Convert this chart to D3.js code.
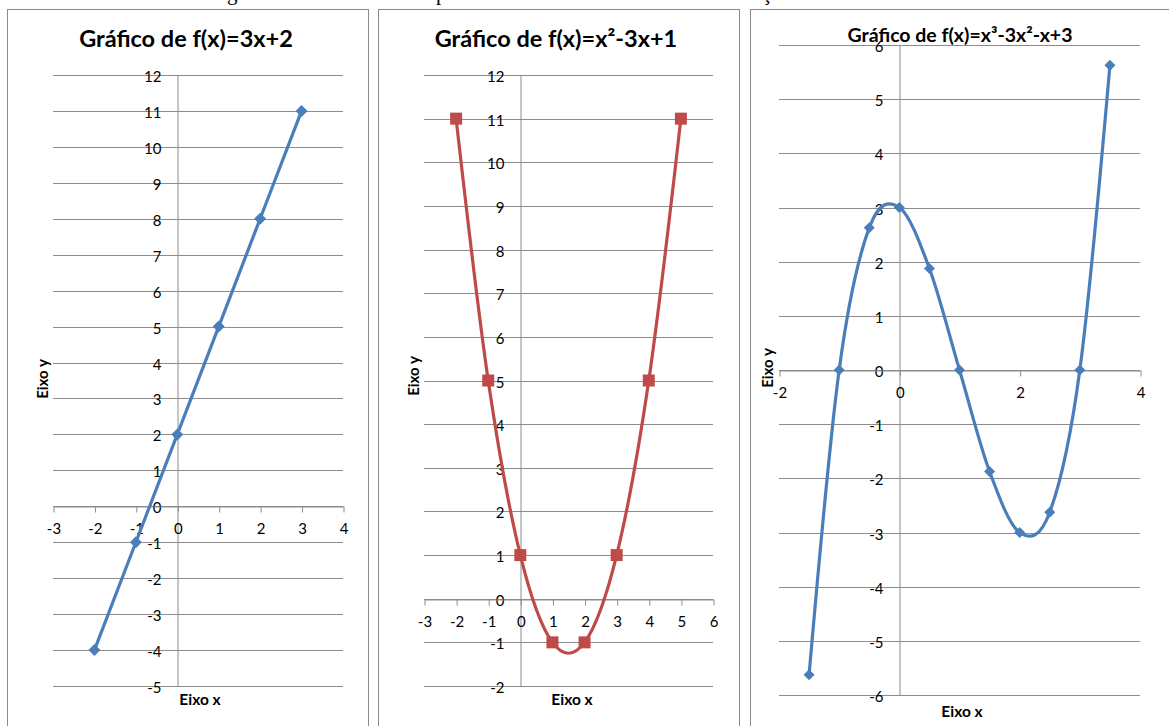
<!DOCTYPE html>
<html>
<head>
<meta charset="utf-8">
<script src="https://cdn.jsdelivr.net/npm/d3@7"></script>
<style>
  html, body { margin: 0; padding: 0; background: #fff; }
  svg { display: block; }
  text { font-family: Lato, "Open Sans", sans-serif; fill: #000; }
  .doc { font-family: "Liberation Serif", "DejaVu Serif", serif; fill: #000; }
</style>
</head>
<body>
<svg id="chart" width="1169" height="726"></svg>
<script>
// ---- data ----
const linTitle = "Gráfico de f(x)=3x+2";
const linX = [-2, -1, 0, 1, 2, 3];
const linY = [-4, -1, 2, 5, 8, 11];
const linXTicks = [-3, -2, -1, 0, 1, 2, 3, 4];
const linYTicks = [-5, -4, -3, -2, -1, 0, 1, 2, 3, 4, 5, 6, 7, 8, 9, 10, 11, 12];

const quadTitle = "Gráfico de f(x)=x²-3x+1";
const quadX = [-2, -1, 0, 1, 2, 3, 4, 5];
const quadY = [11, 5, 1, -1, -1, 1, 5, 11];
const quadXTicks = [-3, -2, -1, 0, 1, 2, 3, 4, 5, 6];
const quadYTicks = [-2, -1, 0, 1, 2, 3, 4, 5, 6, 7, 8, 9, 10, 11, 12];

const cubTitle = "Gráfico de f(x)=x³-3x²-x+3";
const cubX = [-1.5, -1, -0.5, 0, 0.5, 1, 1.5, 2, 2.5, 3, 3.5];
const cubY = [-5.625, 0, 2.625, 3, 1.875, 0, -1.875, -3, -2.625, 0, 5.625];
const cubXTicks = [-2, 0, 2, 4];
const cubYTicks = [-6, -5, -4, -3, -2, -1, 0, 1, 2, 3, 4, 5, 6];

const axisTitleX = "Eixo x";
const axisTitleY = "Eixo y";

// ---- drawing ----
const svg = d3.select("#chart");
const GRID = "#8c8c8c";
const BLUE = "#4a7ebb";
const RED = "#be4b48";
const fmt = d => String(d);   // plain hyphen-minus, no decimals

// descenders of the document line running above the charts
svg.append("text").attr("class", "doc").attr("x", 227).attr("y", -0.5).attr("font-size", 21).text("g");
svg.append("text").attr("class", "doc").attr("x", 436).attr("y", -0.5).attr("font-size", 21).text("p");
svg.append("text").attr("class", "doc").attr("x", 762).attr("y", -0.5).attr("font-size", 21).text("ç");

const diamond = r => `M0,${-r}L${r},0L0,${r}L${-r},0Z`;
const square = r => `M${-r},${-r}H${r}V${r}H${-r}Z`;

function panel(cfg) {
  const g = svg.append("g");

  // chart frame
  g.append("rect")
    .attr("x", cfg.frame[0] + 0.5).attr("y", cfg.frame[1] + 0.5)
    .attr("width", cfg.frame[2]).attr("height", cfg.frame[3])
    .attr("fill", "#fff").attr("stroke", "#8a8a8a").attr("stroke-width", 1);

  const x = d3.scaleLinear().domain(d3.extent(cfg.xTicks)).range(cfg.xRange);
  const y = d3.scaleLinear().domain(d3.extent(cfg.yTicks)).range(cfg.yRange);

  // horizontal gridlines
  g.append("g").selectAll("line").data(cfg.yTicks).join("line")
    .attr("x1", cfg.xRange[0]).attr("x2", cfg.xRange[1])
    .attr("y1", d => Math.round(y(d)) + 0.5).attr("y2", d => Math.round(y(d)) + 0.5)
    .attr("stroke", GRID).attr("stroke-width", 1);

  // vertical axis at x = 0
  const yAxis = g.append("g")
    .attr("transform", `translate(${Math.round(x(0)) + 0.5},0.5)`)
    .call(d3.axisLeft(y).tickValues(cfg.yTicks).tickFormat(fmt)
      .tickSize(0).tickSizeOuter(0).tickPadding(16));
  yAxis.select(".domain").attr("stroke", GRID);
  yAxis.selectAll("text").attr("dy", "0.4em").attr("font-size", cfg.tickFont)
    .attr("font-family", null).attr("fill", "#000");

  // horizontal axis at y = 0
  const xAxis = g.append("g")
    .attr("transform", `translate(0.5,${Math.round(y(0)) + 0.5})`)
    .call(d3.axisBottom(x).tickValues(cfg.xTicks).tickFormat(fmt)
      .tickSize(6).tickSizeOuter(0).tickPadding(11));
  xAxis.select(".domain").attr("stroke", GRID);
  xAxis.selectAll(".tick line").attr("stroke", GRID);
  xAxis.selectAll("text").attr("font-size", cfg.tickFont)
    .attr("font-family", null).attr("fill", "#000");

  // titles
  g.append("text").attr("x", cfg.title[0]).attr("y", cfg.title[1])
    .attr("text-anchor", "middle").attr("font-weight", 700).attr("font-size", cfg.titleFont)
    .text(cfg.titleText);
  g.append("text").attr("x", cfg.xLabel[0]).attr("y", cfg.xLabel[1])
    .attr("text-anchor", "middle").attr("font-weight", 700).attr("font-size", 15.5)
    .text(axisTitleX);
  g.append("text")
    .attr("transform", `translate(${cfg.yLabel[0]},${cfg.yLabel[1]}) rotate(-90)`)
    .attr("text-anchor", "middle").attr("font-weight", 700).attr("font-size", 15)
    .text(axisTitleY);

  // series
  const pts = cfg.xs.map((v, i) => [v, cfg.ys[i]]);
  const line = d3.line().x(d => x(d[0])).y(d => y(d[1])).curve(cfg.curve);
  g.append("path").datum(pts).attr("d", line)
    .attr("fill", "none").attr("stroke", cfg.color).attr("stroke-width", 3.2)
    .attr("stroke-linejoin", "round");
  g.append("g").selectAll("path").data(pts).join("path")
    .attr("transform", d => `translate(${x(d[0])},${y(d[1])})`)
    .attr("d", cfg.marker).attr("fill", cfg.color);
}

panel({
  frame: [7, 9, 361, 740],
  xTicks: linXTicks, yTicks: linYTicks,
  xRange: [53, 343], yRange: [686, 75],
  xs: linX, ys: linY, color: BLUE, marker: diamond(6), curve: d3.curveLinear,
  titleText: linTitle, title: [186, 47], titleFont: 23.5, tickFont: 15,
  xLabel: [200, 705], yLabel: [48, 379]
});

panel({
  frame: [378, 9, 361, 740],
  xTicks: quadXTicks, yTicks: quadYTicks,
  xRange: [424, 713], yRange: [686, 75],
  xs: quadX, ys: quadY, color: RED, marker: square(6), curve: d3.curveCardinal.tension(0),
  titleText: quadTitle, title: [556, 47], titleFont: 23.5, tickFont: 15,
  xLabel: [572, 705], yLabel: [419, 376]
});

panel({
  frame: [750, 9, 430, 740],
  xTicks: cubXTicks, yTicks: cubYTicks,
  xRange: [779, 1140], yRange: [695, 45],
  xs: cubX, ys: cubY, color: BLUE, marker: diamond(5.5), curve: d3.curveCardinal.tension(0),
  titleText: cubTitle, title: [960, 41.5], titleFont: 19.5, tickFont: 15,
  xLabel: [962, 717], yLabel: [773, 368]
});
</script>
</body>
</html>
